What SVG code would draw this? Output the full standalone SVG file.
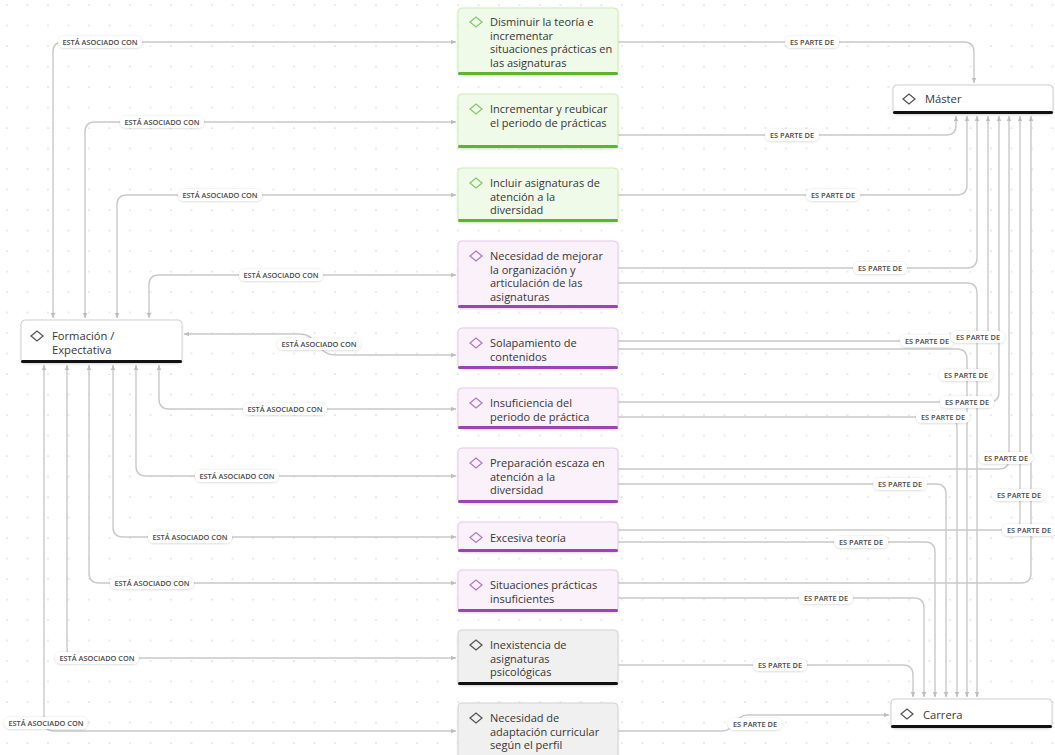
<svg xmlns="http://www.w3.org/2000/svg" width="1055" height="755" viewBox="0 0 1055 755">
<style>
.bg{fill:#ffffff}
.con{fill:none;stroke:#c9c9c9;stroke-width:1.4}
.lbl rect{fill:#ffffff;filter:url(#ls)}
.lbl text{font-family:"Open Sans","Liberation Sans",sans-serif;font-size:7.4px;font-weight:600;fill:#4a4a4a;text-anchor:middle}
.nt{font-family:"Open Sans","Liberation Sans",sans-serif;font-size:11px;font-weight:500;fill:#363636}
.nb{font-family:"Open Sans","Liberation Sans",sans-serif;font-size:11.2px;font-weight:500;fill:#363636}
.g .box{fill:#f0fae9;stroke:#cdebb8;stroke-width:1}
.g .bar{fill:#5cb530}
.g .dia{fill:none;stroke:#86c96a;stroke-width:1.3}
.p .box{fill:#faf1fa;stroke:#e3c9e8;stroke-width:1}
.p .bar{fill:#9a45b2}
.p .dia{fill:none;stroke:#b27cc2;stroke-width:1.3}
.k .box{fill:#f0f0f0;stroke:#d2d2d2;stroke-width:1}
.k .bar{fill:#111111}
.k .dia{fill:none;stroke:#555555;stroke-width:1.3}
.w .box{fill:#ffffff;stroke:#d0d0d0;stroke-width:1}
.w .bar{fill:#111111}
.w .dia{fill:none;stroke:#555555;stroke-width:1.3}
.box{filter:url(#ns)}
</style>
<defs>
<pattern id="dots" width="20.5" height="20.5" patternUnits="userSpaceOnUse" x="6" y="4">
<circle cx="1" cy="1" r="0.85" fill="#d9d9d9"/>
</pattern>
<filter id="ls" x="-20%" y="-50%" width="140%" height="200%">
<feDropShadow dx="0" dy="0.5" stdDeviation="1" flood-color="#000" flood-opacity="0.18"/>
</filter>
<filter id="ns" x="-10%" y="-20%" width="120%" height="140%">
<feDropShadow dx="0" dy="0.8" stdDeviation="1.2" flood-color="#000" flood-opacity="0.12"/>
</filter>
<marker id="ah" viewBox="0 0 10 10" refX="9" refY="5" markerWidth="6" markerHeight="6" markerUnits="userSpaceOnUse" orient="auto-start-reverse">
<path d="M0,1 L9,5 L0,9 Z" fill="#bdbdbd"/>
</marker>
<path id="dm" d="M-6,0 L0,-5 L6,0 L0,5 Z"/>
</defs>
<rect class="bg" x="0" y="0" width="1055" height="755"/>
<rect x="0" y="0" width="1055" height="755" fill="url(#dots)"/>

<g id="connectors">
<path class="con" marker-start="url(#ah)" marker-end="url(#ah)" d="M53,318 V52 Q53,42 63,42 H456"/>
<path class="con" marker-start="url(#ah)" marker-end="url(#ah)" d="M85,318 V132 Q85,122 95,122 H456"/>
<path class="con" marker-start="url(#ah)" marker-end="url(#ah)" d="M117,318 V205 Q117,195 127,195 H456"/>
<path class="con" marker-start="url(#ah)" marker-end="url(#ah)" d="M149,318 V285 Q149,275 159,275 H456"/>
<path class="con" marker-start="url(#ah)" marker-end="url(#ah)" d="M184,334 H300 C318,334 316,355 336,355 H456"/>
<path class="con" marker-start="url(#ah)" marker-end="url(#ah)" d="M159,365 V399 Q159,409 169,409 H456"/>
<path class="con" marker-start="url(#ah)" marker-end="url(#ah)" d="M136,365 V466 Q136,476 146,476 H456"/>
<path class="con" marker-start="url(#ah)" marker-end="url(#ah)" d="M113,365 V527 Q113,537 123,537 H456"/>
<path class="con" marker-start="url(#ah)" marker-end="url(#ah)" d="M89,365 V573 Q89,583 99,583 H456"/>
<path class="con" marker-start="url(#ah)" marker-end="url(#ah)" d="M67,365 V648 Q67,658 77,658 H456"/>
<path class="con" marker-start="url(#ah)" marker-end="url(#ah)" d="M44,365 V721 Q44,731 54,731 H456"/>

<path class="con" marker-end="url(#ah)" d="M618,42 H964 Q974,42 974,52 V83"/>
<path class="con" marker-end="url(#ah)" d="M618,135 H946 Q956,135 956,125 V116"/>
<path class="con" marker-end="url(#ah)" d="M618,195 H957 Q967,195 967,185 V116"/>
<path class="con" marker-end="url(#ah)" d="M618,268 H967 Q977,268 977,258 V116"/>
<path class="con" marker-end="url(#ah)" d="M618,283 H967 Q977,283 977,293 V697"/>
<path class="con" marker-end="url(#ah)" d="M618,341 H978 Q988,341 988,331 V116"/>
<path class="con" marker-end="url(#ah)" d="M618,349 H957 Q967,349 967,359 V697"/>
<path class="con" marker-end="url(#ah)" d="M618,402 H989 Q999,402 999,392 V116"/>
<path class="con" marker-end="url(#ah)" d="M618,417 H947 Q957,417 957,427 V697"/>
<path class="con" marker-end="url(#ah)" d="M618,469 H999 Q1009,469 1009,459 V116"/>
<path class="con" marker-end="url(#ah)" d="M618,484 H936 Q946,484 946,494 V697"/>
<path class="con" marker-end="url(#ah)" d="M618,530 H1010 Q1020,530 1020,520 V116"/>
<path class="con" marker-end="url(#ah)" d="M618,542 H925 Q935,542 935,552 V697"/>
<path class="con" marker-end="url(#ah)" d="M618,583 H1021 Q1031,583 1031,573 V116"/>
<path class="con" marker-end="url(#ah)" d="M618,598 H914 Q924,598 924,608 V697"/>
<path class="con" marker-end="url(#ah)" d="M618,665 H903 Q913,665 913,675 V697"/>
<path class="con" marker-end="url(#ah)" d="M618,731 H722 C736,731 734,715 748,715 H889"/>

<g class="lbl">
<rect x="58" y="36" width="84" height="12" rx="6"/><text x="100" y="44.6">ESTÁ ASOCIADO CON</text>
<rect x="120" y="116" width="84" height="12" rx="6"/><text x="162" y="124.6">ESTÁ ASOCIADO CON</text>
<rect x="178" y="189" width="84" height="12" rx="6"/><text x="220" y="197.6">ESTÁ ASOCIADO CON</text>
<rect x="239" y="269" width="84" height="12" rx="6"/><text x="281" y="277.6">ESTÁ ASOCIADO CON</text>
<rect x="277" y="338" width="84" height="12" rx="6"/><text x="319" y="346.6">ESTÁ ASOCIADO CON</text>
<rect x="243" y="403" width="84" height="12" rx="6"/><text x="285" y="411.6">ESTÁ ASOCIADO CON</text>
<rect x="195" y="470" width="84" height="12" rx="6"/><text x="237" y="478.6">ESTÁ ASOCIADO CON</text>
<rect x="148" y="531" width="84" height="12" rx="6"/><text x="190" y="539.6">ESTÁ ASOCIADO CON</text>
<rect x="110" y="577" width="84" height="12" rx="6"/><text x="152" y="585.6">ESTÁ ASOCIADO CON</text>
<rect x="55" y="652" width="84" height="12" rx="6"/><text x="97" y="660.6">ESTÁ ASOCIADO CON</text>
<rect x="4" y="717" width="84" height="12" rx="6"/><text x="46" y="725.6">ESTÁ ASOCIADO CON</text>

<rect x="785" y="36" width="54" height="12" rx="6"/><text x="812" y="44.6">ES PARTE DE</text>
<rect x="765" y="129" width="54" height="12" rx="6"/><text x="792" y="137.6">ES PARTE DE</text>
<rect x="806" y="189" width="54" height="12" rx="6"/><text x="833" y="197.6">ES PARTE DE</text>
<rect x="853" y="262" width="54" height="12" rx="6"/><text x="880" y="270.6">ES PARTE DE</text>
<rect x="900" y="335" width="54" height="12" rx="6"/><text x="927" y="343.6">ES PARTE DE</text>
<rect x="951" y="331" width="54" height="12" rx="6"/><text x="978" y="339.6">ES PARTE DE</text>
<rect x="939" y="369" width="54" height="12" rx="6"/><text x="966" y="377.6">ES PARTE DE</text>
<rect x="940" y="396" width="54" height="12" rx="6"/><text x="967" y="404.6">ES PARTE DE</text>
<rect x="916" y="411" width="54" height="12" rx="6"/><text x="943" y="419.6">ES PARTE DE</text>
<rect x="979" y="452" width="54" height="12" rx="6"/><text x="1006" y="460.6">ES PARTE DE</text>
<rect x="873" y="478" width="54" height="12" rx="6"/><text x="900" y="486.6">ES PARTE DE</text>
<rect x="992" y="489" width="54" height="12" rx="6"/><text x="1019" y="497.6">ES PARTE DE</text>
<rect x="1002" y="524" width="54" height="12" rx="6"/><text x="1029" y="532.6">ES PARTE DE</text>
<rect x="834" y="536" width="54" height="12" rx="6"/><text x="861" y="544.6">ES PARTE DE</text>
<rect x="799" y="592" width="54" height="12" rx="6"/><text x="826" y="600.6">ES PARTE DE</text>
<rect x="753" y="659" width="54" height="12" rx="6"/><text x="780" y="667.6">ES PARTE DE</text>
<rect x="728" y="718" width="54" height="12" rx="6"/><text x="755" y="726.6">ES PARTE DE</text>
</g>
</g>

<g id="formacion" class="w">
<rect class="box" x="21" y="320" width="161" height="43" rx="4"/>
<rect class="bar" x="21" y="360" width="161" height="3" rx="1.5"/>
<use href="#dm" class="dia" x="37" y="336"/>
<text class="nb" x="52" y="339.5">Formación /</text>
<text class="nb" x="52" y="353.5">Expectativa</text>
</g>

<g id="master" class="w">
<rect class="box" x="893" y="85" width="160" height="29" rx="4"/>
<rect class="bar" x="893" y="111" width="160" height="3" rx="1.5"/>
<use href="#dm" class="dia" x="909" y="99"/>
<text class="nb" x="925" y="103">Máster</text>
</g>

<g id="carrera" class="w">
<rect class="box" x="891" y="699" width="161" height="29" rx="4"/>
<rect class="bar" x="891" y="725" width="161" height="3" rx="1.5"/>
<use href="#dm" class="dia" x="907" y="714"/>
<text class="nb" x="923" y="718.5">Carrera</text>
</g>

<g id="n1" class="g">
<rect class="box" x="458" y="8" width="160" height="67" rx="4"/>
<rect class="bar" x="458" y="72" width="160" height="3" rx="1.5"/>
<use href="#dm" class="dia" x="476" y="22"/>
<text class="nt" x="490" y="26">Disminuir la teoría e</text>
<text class="nt" x="490" y="39.5">incrementar</text>
<text class="nt" x="490" y="53">situaciones prácticas en</text>
<text class="nt" x="490" y="66.5">las asignaturas</text>
</g>

<g id="n2" class="g">
<rect class="box" x="458" y="94" width="160" height="54" rx="4"/>
<rect class="bar" x="458" y="145" width="160" height="3" rx="1.5"/>
<use href="#dm" class="dia" x="476" y="109"/>
<text class="nt" x="490" y="113">Incrementar y reubicar</text>
<text class="nt" x="490" y="126.5">el periodo de prácticas</text>
</g>

<g id="n3" class="g">
<rect class="box" x="458" y="168" width="160" height="54" rx="4"/>
<rect class="bar" x="458" y="219" width="160" height="3" rx="1.5"/>
<use href="#dm" class="dia" x="476" y="183"/>
<text class="nt" x="490" y="187">Incluir asignaturas de</text>
<text class="nt" x="490" y="200.5">atención a la</text>
<text class="nt" x="490" y="214">diversidad</text>
</g>

<g id="n4" class="p">
<rect class="box" x="458" y="241" width="160" height="67" rx="4"/>
<rect class="bar" x="458" y="305" width="160" height="3" rx="1.5"/>
<use href="#dm" class="dia" x="476" y="256"/>
<text class="nt" x="490" y="260">Necesidad de mejorar</text>
<text class="nt" x="490" y="273.5">la organización y</text>
<text class="nt" x="490" y="287">articulación de las</text>
<text class="nt" x="490" y="300.5">asignaturas</text>
</g>

<g id="n5" class="p">
<rect class="box" x="458" y="328" width="160" height="41" rx="4"/>
<rect class="bar" x="458" y="366" width="160" height="3" rx="1.5"/>
<use href="#dm" class="dia" x="476" y="343"/>
<text class="nt" x="490" y="347">Solapamiento de</text>
<text class="nt" x="490" y="360.5">contenidos</text>
</g>

<g id="n6" class="p">
<rect class="box" x="458" y="388" width="160" height="41" rx="4"/>
<rect class="bar" x="458" y="426" width="160" height="3" rx="1.5"/>
<use href="#dm" class="dia" x="476" y="403"/>
<text class="nt" x="490" y="407">Insuficiencia del</text>
<text class="nt" x="490" y="420.5">periodo de práctica</text>
</g>

<g id="n7" class="p">
<rect class="box" x="458" y="448" width="160" height="55" rx="4"/>
<rect class="bar" x="458" y="500" width="160" height="3" rx="1.5"/>
<use href="#dm" class="dia" x="476" y="463"/>
<text class="nt" x="490" y="467">Preparación escaza en</text>
<text class="nt" x="490" y="480.5">atención a la</text>
<text class="nt" x="490" y="494">diversidad</text>
</g>

<g id="n8" class="p">
<rect class="box" x="458" y="522" width="160" height="30" rx="4"/>
<rect class="bar" x="458" y="549" width="160" height="3" rx="1.5"/>
<use href="#dm" class="dia" x="476" y="537.5"/>
<text class="nt" x="490" y="541.5">Excesiva teoría</text>
</g>

<g id="n9" class="p">
<rect class="box" x="458" y="570" width="160" height="42" rx="4"/>
<rect class="bar" x="458" y="609" width="160" height="3" rx="1.5"/>
<use href="#dm" class="dia" x="476" y="585"/>
<text class="nt" x="490" y="589">Situaciones prácticas</text>
<text class="nt" x="490" y="602.5">insuficientes</text>
</g>

<g id="n10" class="k">
<rect class="box" x="458" y="630" width="160" height="55" rx="4"/>
<rect class="bar" x="458" y="682" width="160" height="3" rx="1.5"/>
<use href="#dm" class="dia" x="476" y="645"/>
<text class="nt" x="490" y="649">Inexistencia de</text>
<text class="nt" x="490" y="662.5">asignaturas</text>
<text class="nt" x="490" y="676">psicológicas</text>
</g>

<g id="n11" class="k">
<rect class="box" x="458" y="703" width="160" height="62" rx="4"/>
<use href="#dm" class="dia" x="476" y="718"/>
<text class="nt" x="490" y="722">Necesidad de</text>
<text class="nt" x="490" y="735.5">adaptación curricular</text>
<text class="nt" x="490" y="749">según el perfil</text>
</g>
</svg>
